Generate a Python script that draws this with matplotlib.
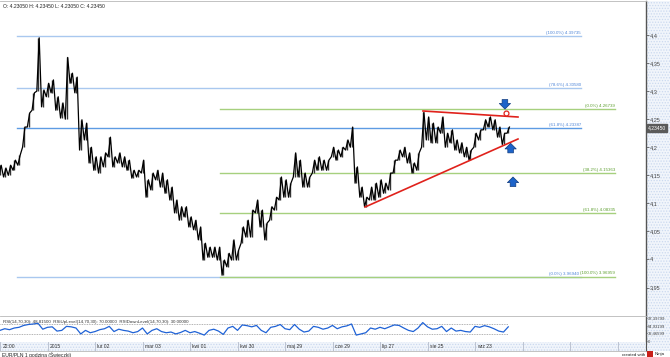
import numpy as np
import matplotlib.pyplot as plt
from matplotlib.patches import Rectangle
from matplotlib.transforms import blended_transform_factory

plt.rcParams['font.family'] = ['Liberation Sans', 'DejaVu Sans']
plt.rcParams['hatch.linewidth'] = 0.6

W, H = 670, 357

# EUR/PLN hourly, sampled every 2 sessions (high / low of the bars)
price_high = [4.168, 4.163, 4.168, 4.177, 4.186, 4.236, 4.261, 4.297, 4.395, 4.302,
              4.314, 4.320, 4.290, 4.279, 4.360, 4.332, 4.325, 4.249, 4.243, 4.200,
              4.183, 4.183, 4.190, 4.218, 4.183, 4.190, 4.183, 4.177, 4.159, 4.159,
              4.177, 4.142, 4.154, 4.159, 4.154, 4.142, 4.129, 4.106, 4.094, 4.094,
              4.076, 4.070, 4.058, 4.029, 4.022, 4.022, 4.022, 3.999, 4.011, 4.035,
              4.017, 4.058, 4.070, 4.088, 4.106, 4.088, 4.065, 4.094, 4.111, 4.147,
              4.142, 4.136, 4.190, 4.177, 4.154, 4.147, 4.177, 4.183, 4.177, 4.177,
              4.200, 4.195, 4.200, 4.213, 4.236, 4.165, 4.129, 4.111, 4.129, 4.136,
              4.142, 4.136, 4.154, 4.177, 4.195, 4.200, 4.190, 4.172, 4.190, 4.262,
              4.254, 4.243, 4.236, 4.254, 4.225, 4.231, 4.213, 4.208, 4.200, 4.195,
              4.225, 4.231, 4.249, 4.254, 4.249, 4.236, 4.225, 4.236]
price_low = [4.150, 4.147, 4.150, 4.159, 4.168, 4.200, 4.236, 4.266, 4.300, 4.272,
             4.290, 4.297, 4.266, 4.252, 4.250, 4.314, 4.297, 4.195, 4.213, 4.172,
             4.159, 4.154, 4.165, 4.183, 4.165, 4.172, 4.165, 4.159, 4.145, 4.147,
             4.154, 4.111, 4.124, 4.142, 4.129, 4.118, 4.106, 4.083, 4.070, 4.076,
             4.058, 4.053, 4.035, 3.999, 4.004, 4.004, 3.999, 3.972, 3.987, 3.999,
             3.999, 4.029, 4.040, 4.040, 4.083, 4.058, 4.035, 4.070, 4.088, 4.106,
             4.111, 4.111, 4.147, 4.147, 4.129, 4.129, 4.154, 4.159, 4.159, 4.159,
             4.183, 4.177, 4.183, 4.195, 4.200, 4.136, 4.111, 4.094, 4.106, 4.106,
             4.111, 4.118, 4.124, 4.154, 4.177, 4.183, 4.172, 4.154, 4.159, 4.200,
             4.213, 4.208, 4.208, 4.225, 4.200, 4.208, 4.195, 4.190, 4.183, 4.177,
             4.200, 4.213, 4.231, 4.236, 4.231, 4.218, 4.205, 4.225]
rsi = [45, 52, 48, 55, 58, 66, 70, 72, 75, 50, 58, 60, 42, 45, 62, 60, 55,
       30, 45, 35, 40, 48, 52, 62, 40, 50, 45, 42, 35, 40, 55,
       30, 45, 52, 40, 35, 38, 30, 36, 45, 35, 40, 33,
       25, 45, 50, 42, 28, 55, 62, 45, 68, 65, 60, 66, 45, 35, 58, 62, 70, 52, 48,
       70, 50, 38, 42, 62, 58, 50, 55, 66, 52, 60, 64,
       72, 25, 30, 35, 55, 50, 58, 52, 60,
       68, 66, 55, 45, 40, 55, 78, 60, 50, 52, 62, 40, 55, 42, 45, 40, 38,
       62, 58, 65, 60, 52, 42, 38, 60]
sessions = np.arange(len(price_high)) * 2

date_labels = ['22:00', '2015', 'lut 02', 'mar 03', 'kwi 01', 'kwi 30',
               'maj 29', 'cze 29', 'lip 27', 'sie 25', 'wrz 23']
date_ticks = np.arange(0, 272, 20)

price_ticks = [3.95, 4.0, 4.05, 4.1, 4.15, 4.2, 4.25, 4.3, 4.35, 4.4]
price_tick_labels = ['3,95', '4', '4,05', '4,1', '4,15', '4,2', '4,25', '4,3', '4,35', '4,4']
rsi_ticks = [0, 32.46599, 64.93199, 97.39799]
rsi_tick_labels = ['0', '32,46599', '64,93199', '97,39799']

# fibonacci retracements
fib_blue_pct = ['100.0', '78.6', '61.8', '0.0']
fib_blue_lvl = [4.39735, 4.30580, 4.23387, 3.96940]
fib_blue_span = (7, 244.6)
fib_green_pct = ['0.0', '38.2', '61.8', '100.0']
fib_green_lvl = [4.26739, 4.15363, 4.08335, 3.96959]
fib_green_span = (92.6, 259)

# triangle trend lines
upper_line_t = [178.1, 218.1]
upper_line_p = [4.2646, 4.2539]
lower_line_t = [153.7, 218.1]
lower_line_p = [4.0935, 4.2147]

last_price = 4.2345


def px_axes(x0, y0, x1, y1):
    return fig.add_axes([x0 / W, 1 - y1 / H, (x1 - x0) / W, (y1 - y0) / H])


fig = plt.figure(figsize=(W / 100, H / 100), dpi=100)

# right scale panel background (dotted)
fig.add_artist(Rectangle((646 / W, 1 - 351 / H), 24 / W, 350 / H, transform=fig.transFigure,
                         facecolor='#f1f5fb', edgecolor='#cbd9ef', hatch='......', lw=0,
                         zorder=-5))

ax = px_axes(0, 1, 646, 315)
ax.set_xlim(0, 272)
ax.set_ylim(3.9011, 4.4606)

# candle noise: each sample drawn as a low -> high swing
zz_t = np.column_stack([sessions - 0.5, sessions + 0.5]).ravel()
zz_p = np.column_stack([price_low, price_high]).ravel()
ax.vlines(sessions, price_low, price_high, color='#333333', lw=1.0, zorder=3)
ax.plot(zz_t, zz_p, color='#000000', lw=0.9, zorder=4)

for pct, lvl in zip(fib_blue_pct, fib_blue_lvl):
    c = '#5d9be3' if pct == '61.8' else '#a9c8ef'
    ax.plot(fib_blue_span, [lvl, lvl], color=c, lw=1.0, zorder=1)
    x_end = fib_blue_span[1] - (1 if pct == '0.0' else 0)
    ax.text(x_end, lvl + 0.002, f'({pct}%) {lvl:.5f}', color='#4f86d8',
            fontsize=3.2, ha='right', va='bottom')
for pct, lvl in zip(fib_green_pct, fib_green_lvl):
    ax.plot(fib_green_span, [lvl, lvl], color='#a6d07e', lw=1.0, zorder=1)
    ax.text(fib_green_span[1], lvl + 0.002, f'({pct}%) {lvl:.5f}', color='#5c9e2e',
            fontsize=3.2, ha='right', va='bottom')

ax.plot(upper_line_t, upper_line_p, color='#e0221c', lw=1.2, zorder=5)
ax.plot(lower_line_t, lower_line_p, color='#e0221c', lw=1.2, zorder=5)
ax.plot([213], [4.2616], marker='o', ms=3.5, mfc='white', mec='#e0221c', mew=0.9, zorder=6)

arrow = dict(arrowstyle='simple,head_width=0.9,head_length=0.45,tail_width=0.45',
             fc='#1d63c9', ec='#0f3a7e', lw=0.5, mutation_scale=9, shrinkA=0, shrinkB=0)
ax.annotate('', xy=(212.6, 4.268), xytext=(212.6, 4.285), arrowprops=arrow)
ax.annotate('', xy=(215.0, 4.207), xytext=(215.0, 4.190), arrowprops=arrow)
ax.annotate('', xy=(216.0, 4.147), xytext=(216.0, 4.130), arrowprops=arrow)

ax.yaxis.tick_right()
ax.set_yticks(price_ticks)
ax.set_yticklabels(price_tick_labels)
ax.set_xticks([])
ax.tick_params(axis='y', length=2, width=0.5, pad=0.8, labelsize=4, colors='#444444')
for side in ['left', 'bottom']:
    ax.spines[side].set_visible(False)
ax.spines['top'].set_color('#b8b8b8')
ax.spines['top'].set_linewidth(0.6)
ax.spines['right'].set_color('#555555')
ax.spines['right'].set_linewidth(1.0)
ax.patch.set_alpha(0)

tr = blended_transform_factory(ax.transAxes, ax.transData)
ax.text(1.003, last_price, f'{last_price:.5f}'.replace('.', ','), transform=tr, fontsize=3.6,
        color='white', va='center', ha='left',
        bbox=dict(boxstyle='square,pad=0.25', fc='#5a5a5a', ec='#5a5a5a'))

fig.text(3 / W, 1 - 7 / H, 'O: 4.23050 H: 4.23450 L: 4.23050 C: 4.23450', fontsize=3.6,
         color='#222222', va='center')

# RSI panel
ax2 = px_axes(0, 316, 646, 342)
ax2.set_xlim(0, 272)
ax2.set_ylim(-4.2, 105.9)
ax2.hlines([70, 30], sessions[0], sessions[-1], color='#999999', lw=0.6, linestyles=(0, (1, 1)))
ax2.plot(sessions, rsi, color='#1f62d6', lw=0.9)
ax2.yaxis.tick_right()
ax2.set_yticks(rsi_ticks)
ax2.set_yticklabels(rsi_tick_labels)
ax2.set_xticks([])
ax2.tick_params(axis='y', length=1, width=0.5, pad=0.5, labelsize=3.0, colors='#444444')
ax2.spines['left'].set_visible(False)
for side in ['top', 'bottom']:
    ax2.spines[side].set_color('#b8b8b8')
    ax2.spines[side].set_linewidth(0.6)
ax2.spines['right'].set_color('#555555')
ax2.spines['right'].set_linewidth(1.0)
ax2.patch.set_alpha(0)
ax2.text(0.005, 0.78, 'RSI(14,70,30): 48.81500  RSIUpLevel(14,70,30): 70.00000  '
         'RSIDownLevel(14,70,30): 30.00000', transform=ax2.transAxes, fontsize=3.2,
         color='#333333', va='center')

# time strip
ax3 = px_axes(0, 342, 646, 351)
ax3.set_xlim(0, 272)
ax3.set_ylim(0, 1)
ax3.add_patch(Rectangle((0, 0), 1, 1, transform=ax3.transAxes, facecolor='#f1f5fb',
                        edgecolor='#cbd9ef', hatch='......', lw=0))
for t in date_ticks:
    ax3.axvline(t, color='#b5bccb', lw=0.6)
for t, lab in zip(date_ticks, date_labels):
    ax3.text(t + 1.0, 0.5, lab, fontsize=3.6, color='#333333', va='center', ha='left')
ax3.set_xticks([])
ax3.set_yticks([])
for side in ['left', 'top']:
    ax3.spines[side].set_visible(False)
ax3.spines['bottom'].set_color('#b8b8b8')
ax3.spines['bottom'].set_linewidth(0.6)
ax3.spines['right'].set_color('#555555')

fig.text(2 / W, 1 - 354.5 / H, 'EUR/PLN 1 godzina (Świeczki)', fontsize=3.6,
         color='#222222', va='center')
fig.text(645 / W, 1 - 354.5 / H, 'created with', fontsize=3.2, color='#222222',
         va='center', ha='right')
fig.add_artist(Rectangle((647 / W, 1 - 357 / H), 6 / W, 6 / H, transform=fig.transFigure,
                         facecolor='#c8201a', lw=0))
fig.text(655 / W, 1 - 354.5 / H, 'Ninja', fontsize=3.2, color='#222222', va='center')

fig.savefig('out.png', dpi=100)
